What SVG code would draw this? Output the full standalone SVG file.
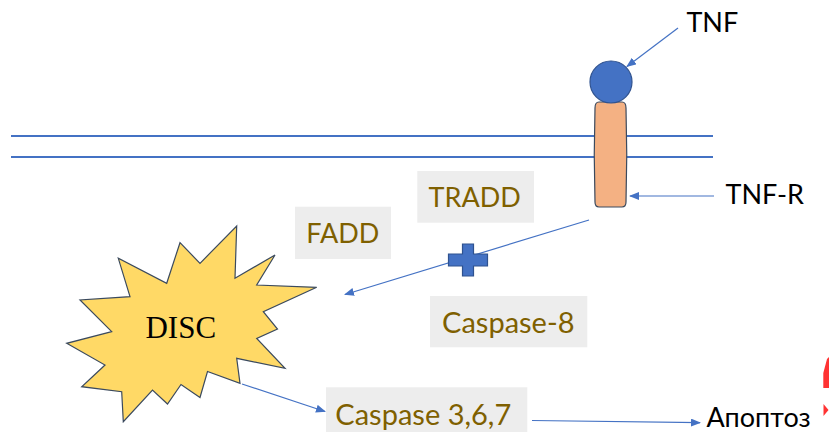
<svg xmlns="http://www.w3.org/2000/svg" width="829" height="432" viewBox="0 0 829 432">
<style>
.mem{stroke:#4472C4;stroke-width:2;fill:none}
.con{stroke:#4472C4;stroke-width:1.2;fill:none}
.box{fill:#EDEDED}
.lbl{font-family:Lato,"Open Sans","Liberation Sans",sans-serif;font-size:27px;fill:#7F6000;text-anchor:middle}
.lbl2{font-size:29px}
.blk{font-family:Lato,"Open Sans","Liberation Sans",sans-serif;font-size:27px;fill:#000;text-anchor:middle}
</style>
<defs>
<marker id="ah" markerWidth="10" markerHeight="8" refX="9" refY="4" orient="auto" markerUnits="userSpaceOnUse">
<path d="M0,0 L10,4 L0,8 Z" fill="#4472C4"/>
</marker>
</defs>
<rect width="829" height="432" fill="#fff"/>
<g id="membrane">
<line class="mem" x1="11" y1="136" x2="713" y2="136"/>
<line class="mem" x1="11" y1="157" x2="713" y2="157"/>
</g>
<g id="tnf-r">
<path d="M599,102 L622,102 Q626,102 626,108 Q627.5,155 626,202 Q626,207 622,207 L599,207 Q595,207 595,202 Q593.5,155 595,108 Q595,102 599,102 Z" fill="#F4B183" stroke="#3B4A5E" stroke-width="1.2"/>
</g>
<g id="tnf">
<circle cx="611" cy="82" r="21" fill="#4472C4" stroke="#2F528F" stroke-width="1.2"/>
</g>
<g id="connectors">
<line class="con" x1="678" y1="28" x2="627" y2="66.5" marker-end="url(#ah)"/>
<line class="con" x1="714" y1="196" x2="630" y2="196" marker-end="url(#ah)"/>
<line class="con" x1="589" y1="220" x2="345" y2="294.5" marker-end="url(#ah)"/>
<line class="con" x1="242" y1="384" x2="325" y2="411.5" marker-end="url(#ah)"/>
<line class="con" x1="532" y1="420.5" x2="700" y2="422.7" marker-end="url(#ah)"/>
</g>
<g id="plus">
<path d="M462.5,244 L473.5,244 L473.5,254 L487.5,254 L487.5,266 L473.5,266 L473.5,276 L462.5,276 L462.5,266 L448.5,266 L448.5,254 L462.5,254 Z" fill="#4472C4" stroke="#2F528F" stroke-width="1.2"/>
</g>
<g id="disc">
<polygon points="236.7,226 235,278.3 275,255 256.7,285 316.7,287.3 263.3,311.7 277.5,329 256.7,338.5 285,368.3 236.7,358.3 240,383.3 207.5,371.5 200,397.5 181,384.5 167.5,404 152.5,390 123.3,421.7 121.7,391.7 81.7,386.7 105,365 66.7,343.3 111.7,331.7 80,300 130,296.7 118.3,258.3 166.7,283.3 180,242.7 200,263.3" fill="#FFD966" stroke="#3B4A5E" stroke-width="1.2" stroke-linejoin="miter"/>
<text x="180.8" y="337.7" font-family="'Liberation Serif',serif" font-size="31" text-anchor="middle" fill="#000">DISC</text>
</g>
<g id="tnf-label"><text class="blk" x="712.3" y="32.3">TNF</text></g>
<g id="tnfr-label"><text class="blk" x="764.7" y="204">TNF-R</text></g>
<g id="tradd"><rect class="box" x="417.3" y="171" width="116.7" height="51.7"/><text class="lbl" x="474.7" y="206.7">TRADD</text></g>
<g id="fadd"><rect class="box" x="295" y="206.7" width="96" height="52.3"/><text class="lbl" x="342.8" y="243.3">FADD</text></g>
<g id="caspase8"><rect class="box" x="430" y="296" width="157.3" height="51.3"/><text class="lbl lbl2" x="508.3" y="333.3">Caspase-8</text></g>
<g id="caspase367"><rect class="box" x="326" y="387.3" width="201.3" height="45"/><text class="lbl lbl2" x="423.3" y="425">Caspase 3,6,7</text></g>
<g id="apoptosis"><text class="blk" x="758.5" y="426.7">Апоптоз</text></g>
<g id="red-mark">
<polygon points="827,359 829,357 829,388 823.3,388 823.3,373" fill="#FF3333"/>
<polygon points="823.5,404 828.5,410 823.5,416" fill="#FF3333"/>
</g>
</svg>
